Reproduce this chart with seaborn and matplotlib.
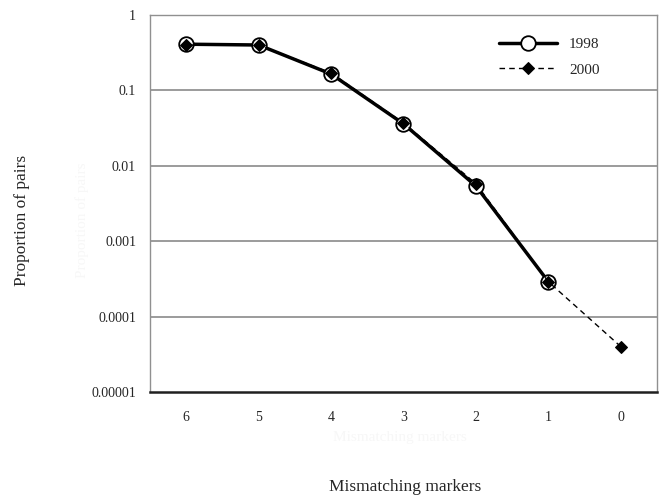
import numpy as np
import pandas as pd
import matplotlib
matplotlib.use("Agg")
import matplotlib.pyplot as plt
import seaborn as sns
from matplotlib.ticker import FixedLocator, FixedFormatter, NullLocator

# data
markers_1998 = [6, 5, 4, 3, 2, 1]
prop_1998 = [0.41, 0.40, 0.165, 0.036, 0.0054, 0.00029]
markers_2000 = [6, 5, 4, 3, 2, 1, 0]
prop_2000 = [0.40, 0.40, 0.17, 0.037, 0.0058, 0.00029, 0.00004]
ytick_vals = [1e-5, 1e-4, 1e-3, 1e-2, 1e-1, 1]
ytick_labels = ['0.00001', '0.0001', '0.001', '0.01', '0.1', '1']

sns.set_style('white')
plt.rcParams['font.family'] = ['Liberation Serif', 'DejaVu Serif']

fig = plt.figure(figsize=(6.62, 4.98), dpi=100)
ax = fig.add_axes([150/662, 1-392/498, (657-150)/662, (392-15)/498])

d98 = pd.DataFrame({'m': markers_1998, 'p': prop_1998})
d00 = pd.DataFrame({'m': markers_2000, 'p': prop_2000})

sns.lineplot(data=d98, x='m', y='p', ax=ax, color='black', lw=2.5,
             marker='o', markersize=10.5, markerfacecolor='white',
             markeredgecolor='black', markeredgewidth=1.3, label='1998', zorder=3)
sns.lineplot(data=d00, x='m', y='p', ax=ax, color='black', lw=1.0,
             linestyle=(0, (4, 3)), marker='D', markersize=6,
             markerfacecolor='black', markeredgecolor='black', label='2000', zorder=4)

ax.set_yscale('log')
ax.set_ylim(1e-5, 1)
ax.set_xlim(6.5, -0.5)
ax.yaxis.set_major_locator(FixedLocator(ytick_vals))
ax.yaxis.set_major_formatter(FixedFormatter(ytick_labels))
ax.yaxis.set_minor_locator(NullLocator())
ax.set_xticks(markers_2000)
ax.set_xticklabels([str(m) for m in markers_2000])

for y in ytick_vals[1:-1]:
    ax.axhline(y, color='#808080', lw=1.1, zorder=1)

for s in ['top', 'right', 'left']:
    ax.spines[s].set_color('#909090')
    ax.spines[s].set_linewidth(1.0)
ax.spines['bottom'].set_color('#202020')
ax.spines['bottom'].set_linewidth(1.8)

ax.tick_params(axis='y', which='major', direction='out', length=6, width=1,
               color='#606060', labelsize=10, pad=4)
ax.tick_params(axis='x', which='major', direction='out', length=6, width=1.3,
               color='#202020', labelsize=10, pad=8)

ax.set_xlabel('')
ax.set_ylabel('')
fig.text(405/662, 1-487/498, 'Mismatching markers', ha='center', va='center', fontsize=12.5)
fig.text(22/662, 1-220/498, 'Proportion of pairs', ha='center', va='center',
         rotation=90, fontsize=12.5)
# faint ghost labels visible in the reference
fig.text(400/662, 1-437/498, 'Mismatching markers', ha='center', va='center',
         fontsize=11, color='#f7f7f7')
fig.text(82/662, 1-220/498, 'Proportion of pairs', ha='center', va='center',
         rotation=90, fontsize=11, color='#f7f7f7')

leg = ax.legend(loc='upper left', frameon=False, fontsize=11, handlelength=3.8,
                handletextpad=0.8, labelspacing=0.75,
                bbox_to_anchor=((485-150)/507, 1 - 9/377))

fig.savefig('out.png', dpi=100)
